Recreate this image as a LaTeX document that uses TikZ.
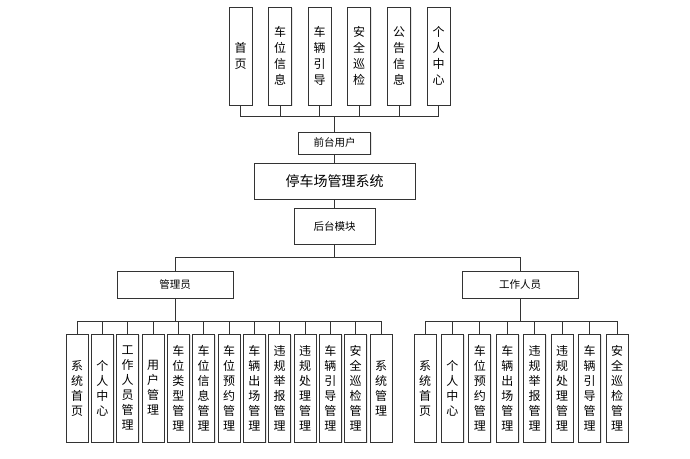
\documentclass[tikz,border=0pt]{standalone}
\usepackage{fontspec}
\setmainfont{Noto Sans CJK SC}
\usetikzlibrary{shadows}

\begin{document}
\begin{tikzpicture}[x=1pt, y=-1pt,
		link/.style = {draw=black!80, line width=1pt},
		box/.style = {draw=black!80, line width=1pt, fill=white,
			inner sep=0pt, align=center,
			drop shadow={shadow xshift=1.2pt, shadow yshift=-1.2pt, opacity=0.2}},
		topbox/.style = {box, minimum width=23pt, minimum height=98pt,
			font=\fontsize{12}{16}\selectfont},
		leafbox/.style = {box, minimum width=22pt, minimum height=108pt,
			font=\fontsize{12}{15}\selectfont},
		rolebox/.style = {box, minimum width=116pt, minimum height=27pt,
			font=\fontsize{10.5}{12}\selectfont}]
		
		\useasboundingbox (0,0) rectangle (690,458);
		
		% Front modules
		\node[topbox] (home) at (240.5,56) {首\\页};
		\node[topbox] (space) at (280,56) {车\\位\\信\\息};
		\node[topbox] (guide) at (319.5,56) {车\\辆\\引\\导};
		\node[topbox] (patrol) at (359,56) {安\\全\\巡\\检};
		\node[topbox] (notice) at (399,56) {公\\告\\信\\息};
		\node[topbox] (mine) at (438.5,56) {个\\人\\中\\心};
		
		% Main chain
		\node[box, minimum width=72pt, minimum height=22pt,
			font=\fontsize{10.5}{12}\selectfont] (front) at (334.5,143) {前台用户};
		\node[box, minimum width=161pt, minimum height=36pt,
			font=\fontsize{14}{16}\selectfont] (system) at (334.5,181) {停车场管理系统};
		\node[box, minimum width=81pt, minimum height=36pt,
			font=\fontsize{10.5}{12}\selectfont] (back) at (334.5,226) {后台模块};
		
		% Roles
		\node[rolebox] (admin) at (175,284.5) {管理员};
		\node[rolebox] (staff) at (520,284.5) {工作人员};
		
		% Admin modules
		\node[leafbox] (ahome) at (77,388) {系\\统\\首\\页};
		\node[leafbox] (amine) at (102.3,388) {个\\人\\中\\心};
		\node[leafbox] (aworker) at (127.7,388) {工\\作\\人\\员\\管\\理};
		\node[leafbox] (auser) at (153,388) {用\\户\\管\\理};
		\node[leafbox] (atype) at (178.3,388) {车\\位\\类\\型\\管\\理};
		\node[leafbox] (aspace) at (203.7,388) {车\\位\\信\\息\\管\\理};
		\node[leafbox] (abook) at (229,388) {车\\位\\预\\约\\管\\理};
		\node[leafbox] (aexit) at (254.3,388) {车\\辆\\出\\场\\管\\理};
		\node[leafbox] (areport) at (279.7,388) {违\\规\\举\\报\\管\\理};
		\node[leafbox] (adeal) at (305,388) {违\\规\\处\\理\\管\\理};
		\node[leafbox] (aguide) at (330.3,388) {车\\辆\\引\\导\\管\\理};
		\node[leafbox] (apatrol) at (355.7,388) {安\\全\\巡\\检\\管\\理};
		\node[leafbox] (asys) at (381,388) {系\\统\\管\\理};
		
		% Staff modules
		\node[leafbox] (shome) at (425,388) {系\\统\\首\\页};
		\node[leafbox] (smine) at (452.4,388) {个\\人\\中\\心};
		\node[leafbox] (sbook) at (479.9,388) {车\\位\\预\\约\\管\\理};
		\node[leafbox] (sexit) at (507.3,388) {车\\辆\\出\\场\\管\\理};
		\node[leafbox] (sreport) at (534.7,388) {违\\规\\举\\报\\管\\理};
		\node[leafbox] (sdeal) at (562.1,388) {违\\规\\处\\理\\管\\理};
		\node[leafbox] (sguide) at (589.6,388) {车\\辆\\引\\导\\管\\理};
		\node[leafbox] (spatrol) at (617,388) {安\\全\\巡\\检\\管\\理};
		
		% Connectors
		\foreach \t in {home,space,guide,patrol,notice,mine}
			\draw[link] (front.north) -- ++(0,-15) -| (\t.south);
		\draw[link] (front) -- (system);
		\draw[link] (system) -- (back);
		\draw[link] (back.south) -- ++(0,13) -| (admin.north);
		\draw[link] (back.south) -- ++(0,13) -| (staff.north);
		\foreach \c in {ahome,amine,aworker,auser,atype,aspace,abook,aexit,areport,adeal,aguide,apatrol,asys}
			\draw[link] (admin.south) -- ++(0,23) -| (\c.north);
		\foreach \c in {shome,smine,sbook,sexit,sreport,sdeal,sguide,spatrol}
			\draw[link] (staff.south) -- ++(0,23) -| (\c.north);
	\end{tikzpicture}
\end{document}
